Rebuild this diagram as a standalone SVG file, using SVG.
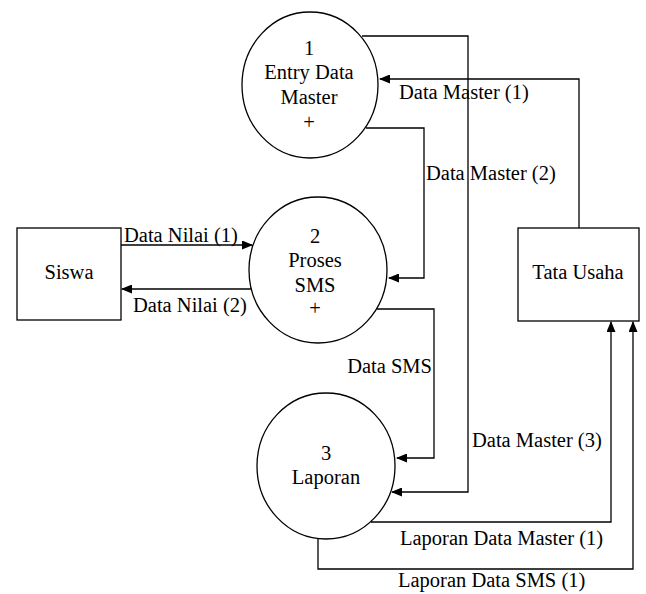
<svg xmlns="http://www.w3.org/2000/svg" width="646" height="594" viewBox="0 0 646 594">
<style>
text{font-family:"Liberation Serif","Times New Roman",serif;font-size:20.5px;fill:#000}
.c{text-anchor:middle}
.n{fill:#fff;stroke:#000;stroke-width:1.3}
.l{fill:none;stroke:#000;stroke-width:1.3}
</style>
<defs>
<marker id="a" markerWidth="11" markerHeight="9" refX="10" refY="4.5" orient="auto" markerUnits="userSpaceOnUse">
<path d="M0,0L11,4.5L0,9z" fill="#000"/>
</marker>
</defs>
<rect width="646" height="594" fill="#fff"/>
<g id="connectors">
<path class="l" d="M362,36H468V492H392" marker-end="url(#a)"/>
<path class="l" d="M579,228V79H380" marker-end="url(#a)"/>
<path class="l" d="M366,128H424V278H389" marker-end="url(#a)"/>
<path class="l" d="M121,245H252" marker-end="url(#a)"/>
<path class="l" d="M251,289H122" marker-end="url(#a)"/>
<path class="l" d="M377,309H434V458H397" marker-end="url(#a)"/>
<path class="l" d="M371,522H611V322" marker-end="url(#a)"/>
<path class="l" d="M318,539V569H633V322" marker-end="url(#a)"/>
<text x="399" y="99">Data Master (1)</text>
<text x="426" y="180">Data Master (2)</text>
<text x="124" y="242">Data Nilai (1)</text>
<text x="133" y="312">Data Nilai (2)</text>
<text x="432" y="373" text-anchor="end">Data SMS</text>
<text x="472" y="447">Data Master (3)</text>
<text x="400" y="545">Laporan Data Master (1)</text>
<text x="398" y="587">Laporan Data SMS (1)</text>
</g>
<g id="p1">
<ellipse class="n" cx="310" cy="85" rx="68" ry="73"/>
<text class="c" x="309" y="55">1</text>
<text class="c" x="309" y="79">Entry Data</text>
<text class="c" x="309" y="104">Master</text>
<text class="c" x="309" y="129">+</text>
</g>
<g id="p2">
<ellipse class="n" cx="318" cy="270" rx="69" ry="73"/>
<text class="c" x="315" y="243">2</text>
<text class="c" x="315" y="267">Proses</text>
<text class="c" x="315" y="292">SMS</text>
<text class="c" x="315" y="315">+</text>
</g>
<g id="p3">
<ellipse class="n" cx="326" cy="466" rx="69" ry="73"/>
<text class="c" x="326" y="460">3</text>
<text class="c" x="326" y="484">Laporan</text>
</g>
<g id="siswa">
<rect class="n" x="17" y="228" width="104" height="92"/>
<text class="c" x="69" y="279">Siswa</text>
</g>
<g id="tatausaha">
<rect class="n" x="518" y="228" width="121" height="93"/>
<text class="c" x="578" y="279">Tata Usaha</text>
</g>
</svg>
